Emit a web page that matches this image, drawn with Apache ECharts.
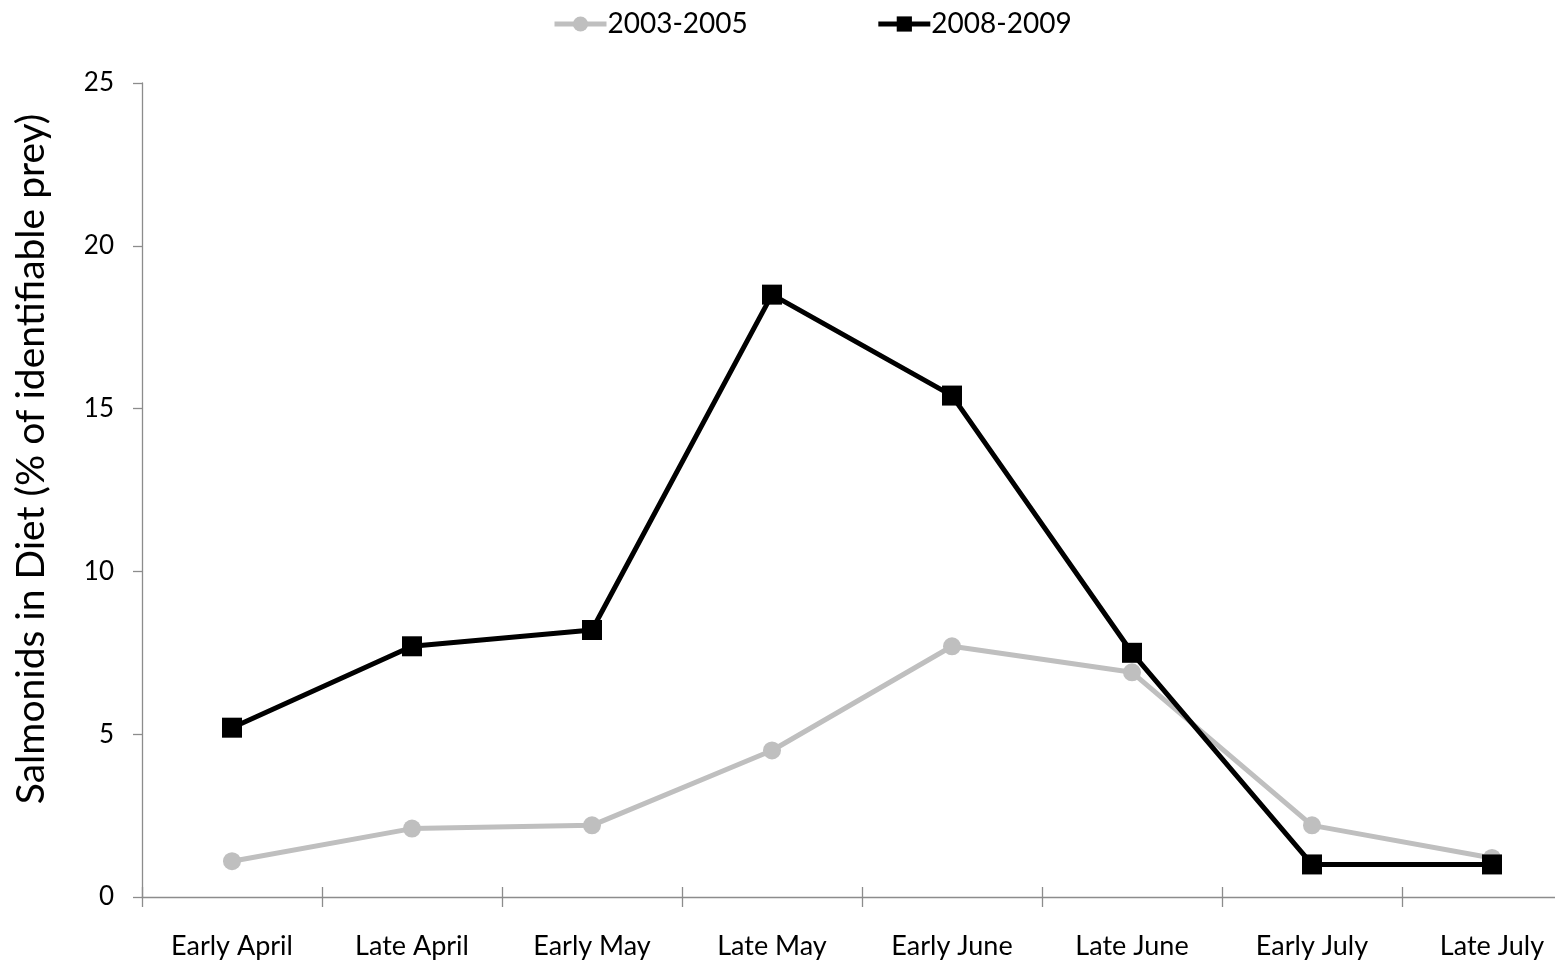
<!DOCTYPE html>
<html>
<head>
<meta charset="utf-8">
<script src="https://cdn.jsdelivr.net/npm/echarts@6/dist/echarts.min.js"></script>
<style>
  html, body { margin: 0; padding: 0; background: #fff; }
  #chart { width: 1555px; height: 969px; }
</style>
</head>
<body>
<div id="chart"></div>
<script>
// Half-month periods of the sampling season
const periods = ['Early April', 'Late April', 'Early May', 'Late May', 'Early June', 'Late June', 'Early July', 'Late July'];
// Salmonids in diet (% of identifiable prey)
const years2003to2005 = [1.1, 2.1, 2.2, 4.5, 7.7, 6.9, 2.2, 1.2];
const years2008to2009 = [5.2, 7.7, 8.2, 18.5, 15.4, 7.5, 1.0, 1.0];
const yTicks = { min: 0, max: 25, interval: 5 };

const font = 'Lato, "Open Sans", sans-serif';
const axisGray = '#8c8c8c';

const chart = echarts.init(document.getElementById('chart'));
chart.setOption({
  animation: false,
  textStyle: { fontFamily: font },
  legend: {
    top: 5,
    left: 547,
    itemWidth: 52,
    itemHeight: 19,
    itemGap: 128,
    lineStyle: { width: 5 },
    textStyle: { fontFamily: font, fontSize: 28, color: '#000', padding: [0, 0, 0, -4] },
    data: ['2003-2005', '2008-2009']
  },
  grid: { left: 142, top: 83, width: 1440, bottom: 72, containLabel: false, outerBoundsMode: 'none' },
  xAxis: [
    {
      type: 'category',
      data: periods,
      boundaryGap: true,
      position: 'bottom',
      axisLine: { lineStyle: { color: axisGray, width: 1.3 } },
      axisTick: { show: true, length: 10, lineStyle: { color: axisGray, width: 1.3 } },
      axisLabel: { fontFamily: font, fontSize: 27, color: '#000', margin: 36 },
      splitLine: { show: false }
    },
    {
      // second copy of the category axis supplies the inward half of each tick
      type: 'category',
      data: periods,
      boundaryGap: true,
      position: 'bottom',
      axisLine: { show: false },
      axisTick: { show: true, inside: true, length: 10, lineStyle: { color: axisGray, width: 1.3 } },
      axisLabel: { show: false },
      splitLine: { show: false }
    }
  ],
  yAxis: {
    type: 'value',
    min: yTicks.min,
    max: yTicks.max,
    interval: yTicks.interval,
    name: 'Salmonids in Diet (% of identifiable prey)',
    nameLocation: 'middle',
    nameGap: 91,
    // left padding lifts the rotated title slightly above the axis midpoint
    nameTextStyle: { fontFamily: font, fontSize: 39, color: '#000', padding: [0, 0, 0, 62] },
    axisLine: { show: true, lineStyle: { color: axisGray, width: 1.3 } },
    axisTick: { show: true, length: 9, lineStyle: { color: axisGray, width: 1.3 } },
    axisLabel: { fontFamily: font, fontSize: 26, color: '#000', margin: 28 },
    splitLine: { show: false }
  },
  series: [
    {
      name: '2003-2005',
      type: 'line',
      data: years2003to2005,
      symbol: 'circle',
      symbolSize: 18,
      color: '#bfbfbf',
      lineStyle: { color: '#bfbfbf', width: 5 },
      itemStyle: { color: '#bfbfbf' },
      z: 2
    },
    {
      name: '2008-2009',
      type: 'line',
      data: years2008to2009,
      symbol: 'rect',
      symbolSize: 20,
      color: '#000',
      lineStyle: { color: '#000', width: 5 },
      itemStyle: { color: '#000' },
      z: 3
    }
  ]
});
</script>
</body>
</html>
